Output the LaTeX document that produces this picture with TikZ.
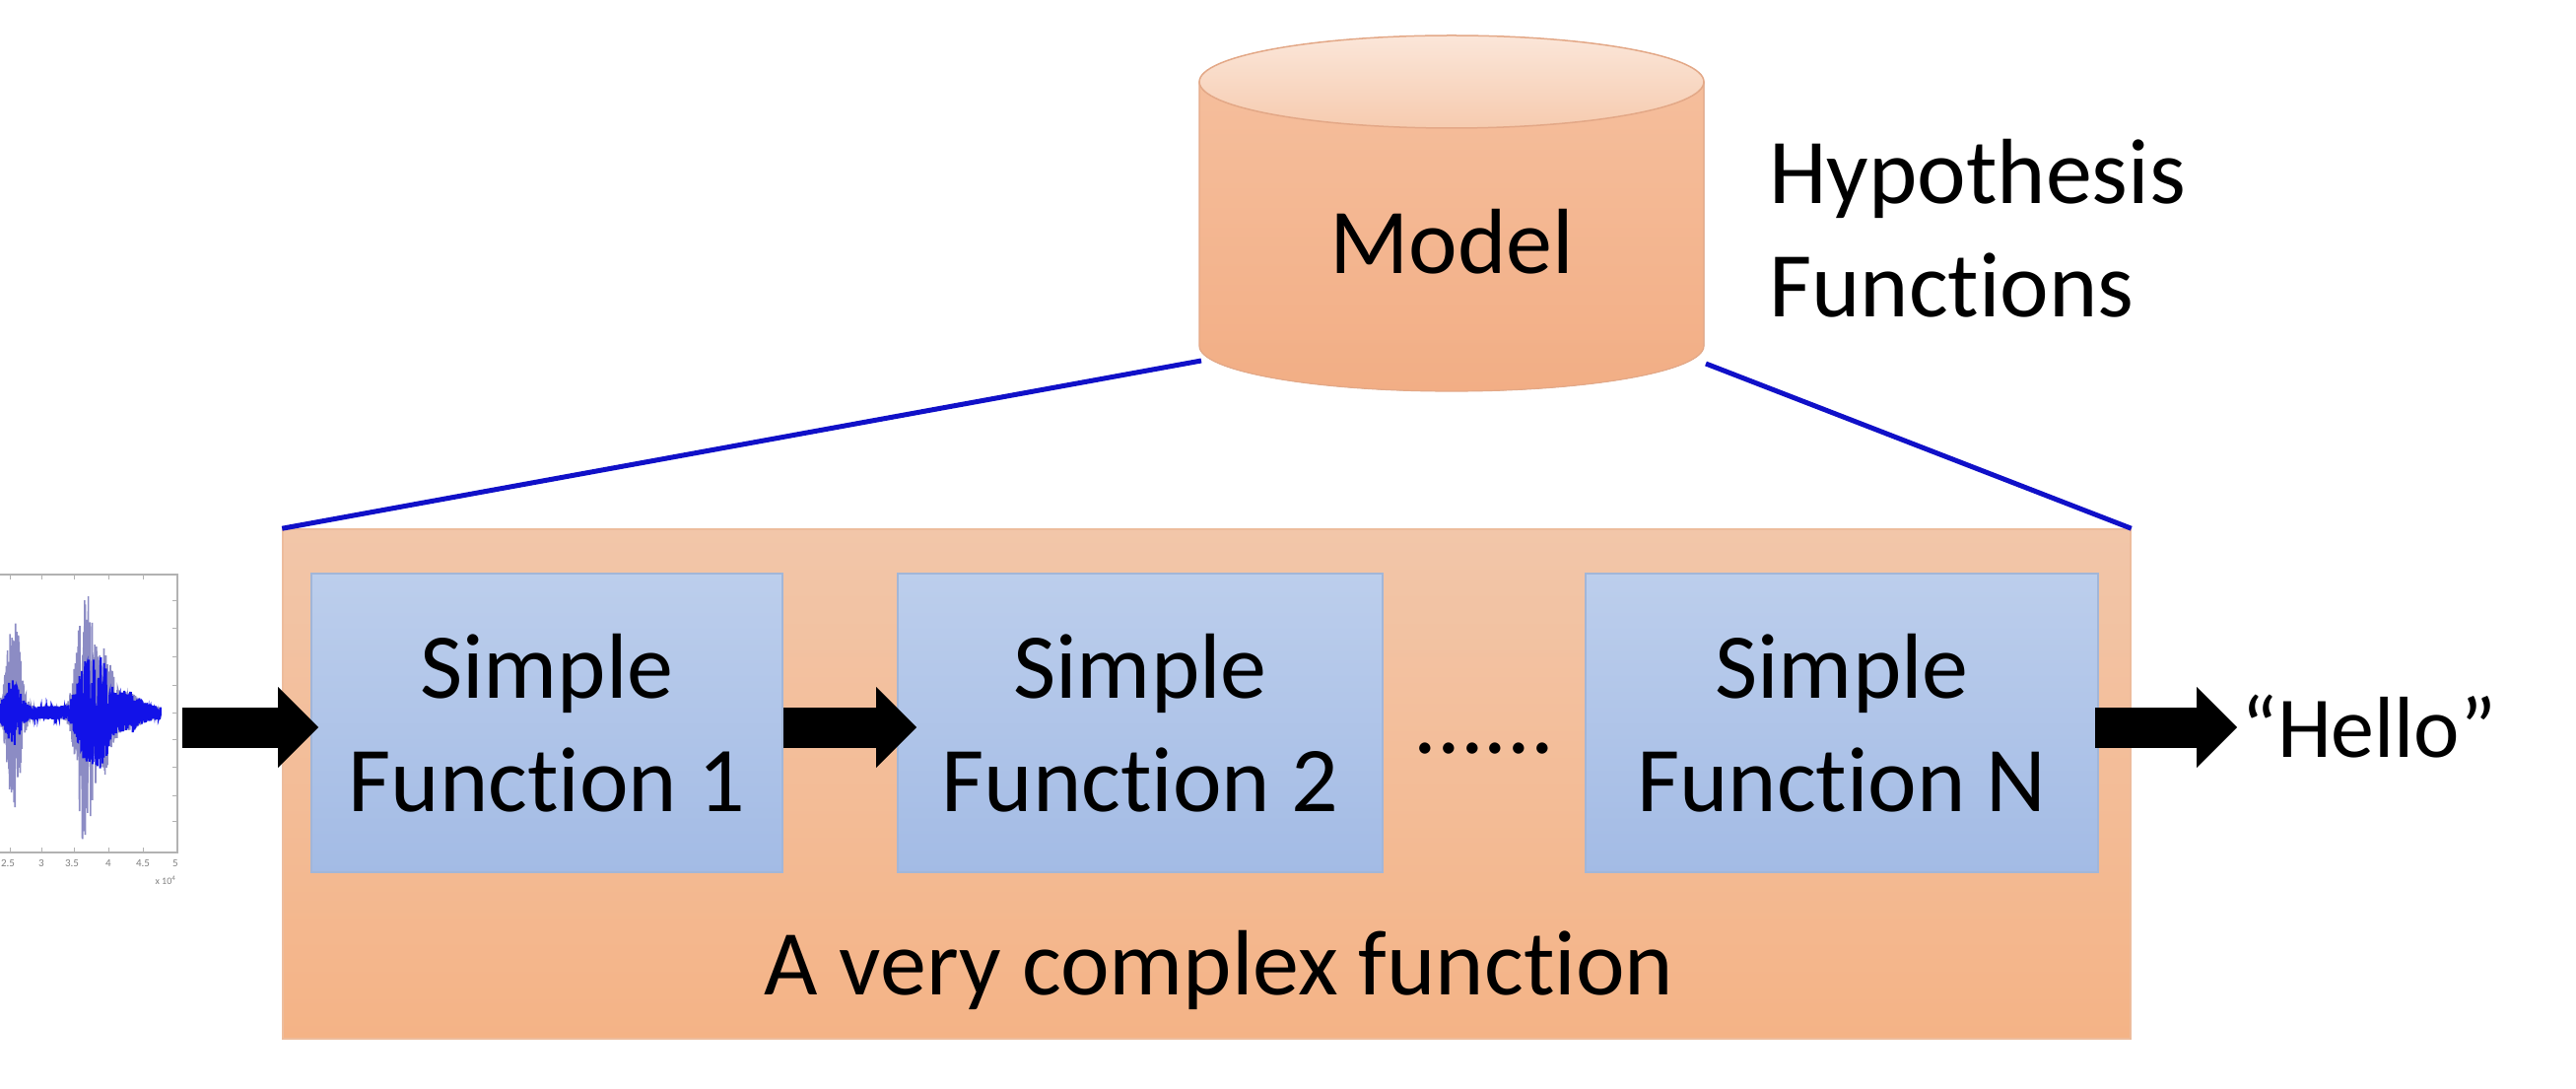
\documentclass[tikz,border=0pt]{standalone}
\usepackage{fontspec}
\setmainfont{Carlito}[Ligatures=NoCommon]
\usetikzlibrary{arrows.meta}
\definecolor{orgTop}{HTML}{F2C6A9}
\definecolor{orgBot}{HTML}{F4B386}
\definecolor{orgEdge}{HTML}{EDBC9C}
\definecolor{blueTop}{HTML}{BCCEEC}
\definecolor{blueBot}{HTML}{A3BBE5}
\definecolor{blueEdge}{HTML}{A2B6D8}
\definecolor{cylTop}{HTML}{F5BE9C}
\definecolor{cylBot}{HTML}{F2AE85}
\definecolor{capTop}{HTML}{FBE6D9}
\definecolor{capBot}{HTML}{F6CBAF}
\definecolor{cylEdge}{HTML}{E3A887}
\definecolor{linkBlue}{HTML}{1010C8}
\definecolor{waveLight}{HTML}{8C8CC4}
\definecolor{waveDark}{HTML}{1212E8}
\begin{document}
\begin{tikzpicture}[x=1pt,y=1pt,
  bigtext/.style={font=\fontsize{94}{115}\selectfont},
  fbox/.style={draw=blueEdge, line width=2pt, top color=blueTop, bottom color=blueBot,
    minimum height=303pt, align=center, inner sep=0pt, bigtext},
  fatarrow/.style={line width=41pt, -{Triangle[length=41pt,width=82pt,line width=0pt]}},
  link/.style={draw=linkBlue, line width=5pt},
  declare function={
    envl(\t)=6+95*exp(-((\t-14)/9)^2)+130*exp(-((\t-86)/10)^2)+60*exp(-((\t-106)/10)^2)+15*exp(-((\t-130)/15)^2);
    envd(\t)=7+28*exp(-((\t-13)/9)^2)+45*exp(-((\t-88)/12)^2)+40*exp(-((\t-104)/9)^2)+16*exp(-((\t-128)/16)^2);}
]
\useasboundingbox (0,0) rectangle (2614,1104);

% waveform plot
\begin{scope}
  \clip (0,190) rectangle (200,560);
  \pgfmathsetseed{7}
  \draw[gray!60, line width=1.2pt] (-10,239) rectangle (180,521);
  \foreach \yy in {494,466,437,409,381,354,326,297,271} {
    \draw[gray!60, line width=1pt] (180,\yy) -- (175,\yy);
  }
  \foreach \xx in {10,42,75,110,145} {
    \draw[gray!60, line width=1pt] (\xx,239) -- (\xx,244);
    \draw[gray!60, line width=1pt] (\xx,521) -- (\xx,516);
  }
  \draw[waveLight, line width=1.6pt] plot[domain=0:163, samples=900, variable=\t]
    (\t, {381 + (2*rnd-1)*envl(\t)});
  \draw[waveDark, line width=2pt] plot[domain=0:163, samples=900, variable=\t]
    (\t, {381 + (2*rnd-1)*envd(\t)});
  \foreach \xx/\lab in {8/2.5,42/3,73/3.5,110/4,145/4.5,178/5} {
    \node[gray, font=\fontsize{11}{12}\selectfont, inner sep=0pt] at (\xx,228) {\lab};
  }
  \node[gray, font=\fontsize{10}{11}\selectfont, inner sep=0pt] at (168,211) {x 10\textsuperscript{4}};
\end{scope}
\coordinate (wave) at (185,366);

% big container
\node[draw=orgEdge, line width=1.5pt, top color=orgTop, bottom color=orgBot,
  minimum width=1875pt, minimum height=517pt, inner sep=0pt] (big) at (1224.5,308.5) {};

% links to cylinder (drawn below cylinder)
\coordinate (cylL) at (1219,738);
\coordinate (cylR) at (1731,735);
\draw[link] (big.north west) -- (cylL);
\draw[link] (cylR) -- (big.north east);

% cylinder
\node[minimum width=512pt, minimum height=359pt, inner sep=0pt] (cyl) at (1473,888.5) {};
\filldraw[draw=cylEdge, line width=1.2pt, top color=cylTop, bottom color=cylBot]
  (1217,1021) -- (1217,753) arc[start angle=180, end angle=360, x radius=256, y radius=46]
  -- (1729,1021) -- cycle;
\filldraw[draw=cylEdge, line width=1.5pt, top color=capTop, bottom color=capBot]
  (1473,1021) ellipse [x radius=256, y radius=47];
\node[bigtext, inner sep=0pt] (model) at (1473,859) {Model};
\node[bigtext, inner sep=0pt, anchor=west, align=left] (hyp) at (1795,872) {Hypothesis\\Functions};

% function boxes
\node[fbox, minimum width=478pt] (f1) at (555,370.5) {Simple\\Function 1};
\node[fbox, minimum width=492pt] (f2) at (1157,370.5) {Simple\\Function 2};
\node[fbox, minimum width=520pt] (fn) at (1869,370.5) {Simple\\Function N};
\node[bigtext, inner sep=0pt, anchor=base] (dots) at (1506,340) {......};
\node[bigtext, inner sep=0pt] (lbl) at (1237,120) {A very complex function};
\node[font=\fontsize{88}{110}\selectfont, inner sep=4pt, anchor=west] (hello) at (2270,367) {“Hello”};

% arrows
\draw[fatarrow] (wave) -- ([xshift=8pt,yshift=-4.5pt]f1.west);
\draw[fatarrow] ([yshift=-4.5pt]f1.east) -- ([xshift=20pt,yshift=-4.5pt]f2.west);
\draw[fatarrow] ([xshift=-4pt,yshift=-4.5pt]fn.east) -- ([yshift=-4.5pt]fn.east -| hello.west);
\end{tikzpicture}
\end{document}
